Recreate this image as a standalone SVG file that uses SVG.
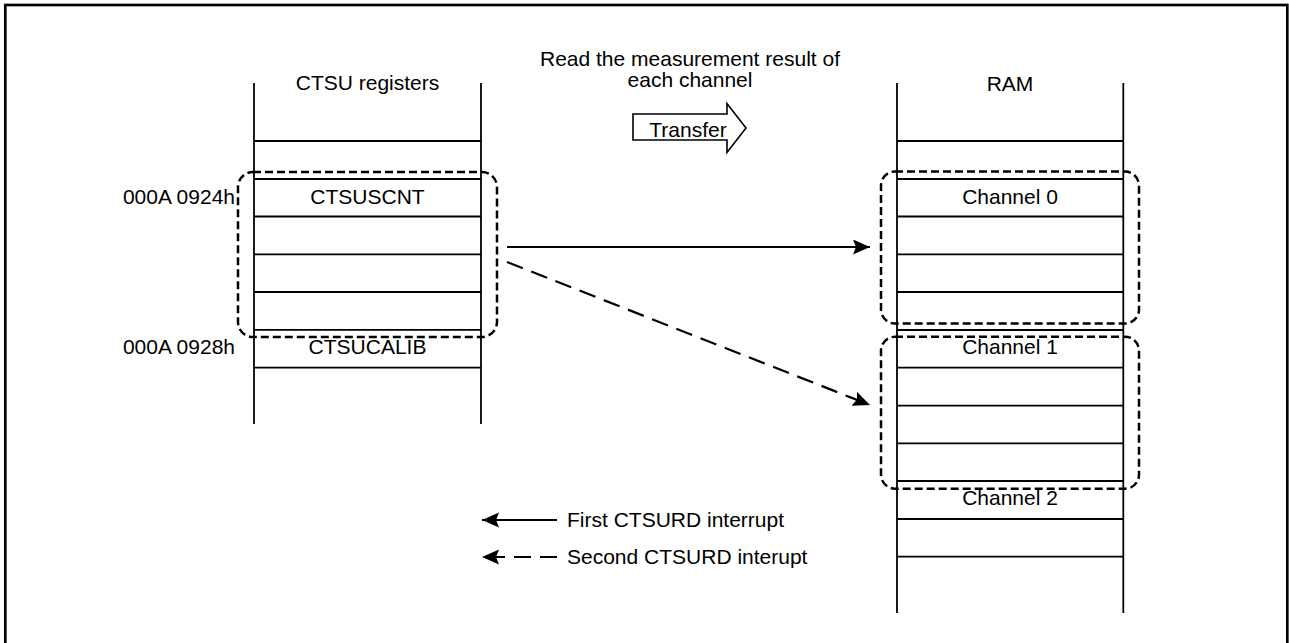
<svg xmlns="http://www.w3.org/2000/svg" width="1289" height="643" viewBox="0 0 1289 643">
<style>
text{font-family:"Liberation Sans",Arial,sans-serif;font-size:21px;fill:#000}
.c{text-anchor:middle}
.r{text-anchor:end}
.cell{stroke:#000;stroke-width:1.8;fill:none}
.grp{stroke:#000;stroke-width:2.5;fill:none;stroke-dasharray:8 4}
.conn{stroke:#000;stroke-width:2.2;fill:none}
.dash{stroke-dasharray:17 9}
</style>
<defs>
<marker id="ah" markerUnits="userSpaceOnUse" markerWidth="19" markerHeight="16" refX="17" refY="7.5" orient="auto">
<path d="M0,0 L17,7.5 L0,15 L3,7.5 z" fill="#000" stroke="none"/>
</marker>
</defs>
<rect x="5.3" y="5" width="1282" height="660" fill="#fff" stroke="#000" stroke-width="2.7"/>

<g id="title">
<text class="c" x="690" y="66">Read the measurement result of</text>
<text class="c" x="690" y="87">each channel</text>
</g>
<g id="transfer">
<path d="M633,114 H727 V103.5 L746,128 L727,152.5 V140 H633 Z" fill="#fff" stroke="#000" stroke-width="1.6"/>
<text class="c" x="688" y="137">Transfer</text>
</g>

<g id="ctsu-registers">
<text class="c" x="367.5" y="90">CTSU registers</text>
<line class="cell" x1="254" y1="83" x2="254" y2="424"/>
<line class="cell" x1="481" y1="83" x2="481" y2="424"/>
<line class="cell" x1="254" y1="141" x2="481" y2="141"/>
<line class="cell" x1="254" y1="179" x2="481" y2="179"/>
<line class="cell" x1="254" y1="216.5" x2="481" y2="216.5"/>
<line class="cell" x1="254" y1="254.3" x2="481" y2="254.3"/>
<line class="cell" x1="254" y1="292" x2="481" y2="292"/>
<line class="cell" x1="254" y1="329.8" x2="481" y2="329.8"/>
<line class="cell" x1="254" y1="367.7" x2="481" y2="367.7"/>
<text class="c" x="367.5" y="203.5">CTSUSCNT</text>
<text class="c" x="367.5" y="354">CTSUCALIB</text>
<text class="r" x="235" y="203.5">000A 0924h</text>
<text class="r" x="235" y="354">000A 0928h</text>
</g>

<g id="ram">
<text class="c" x="1010" y="91">RAM</text>
<line class="cell" x1="897" y1="83" x2="897" y2="613"/>
<line class="cell" x1="1123.3" y1="83" x2="1123.3" y2="613"/>
<line class="cell" x1="897" y1="141" x2="1123.3" y2="141"/>
<line class="cell" x1="897" y1="179" x2="1123.3" y2="179"/>
<line class="cell" x1="897" y1="216.5" x2="1123.3" y2="216.5"/>
<line class="cell" x1="897" y1="254.3" x2="1123.3" y2="254.3"/>
<line class="cell" x1="897" y1="292" x2="1123.3" y2="292"/>
<line class="cell" x1="897" y1="330" x2="1123.3" y2="330"/>
<line class="cell" x1="897" y1="367.7" x2="1123.3" y2="367.7"/>
<line class="cell" x1="897" y1="405.6" x2="1123.3" y2="405.6"/>
<line class="cell" x1="897" y1="443.3" x2="1123.3" y2="443.3"/>
<line class="cell" x1="897" y1="481" x2="1123.3" y2="481"/>
<line class="cell" x1="897" y1="519" x2="1123.3" y2="519"/>
<line class="cell" x1="897" y1="556.7" x2="1123.3" y2="556.7"/>
<text class="c" x="1010" y="204">Channel 0</text>
<text class="c" x="1010" y="354">Channel 1</text>
<text class="c" x="1010" y="505">Channel 2</text>
</g>

<g id="groups">
<rect id="group-left" class="grp" x="238" y="172" width="259" height="165" rx="15" ry="15"/>
<rect id="group-ch0" class="grp" x="881" y="171.5" width="258" height="152" rx="14" ry="14"/>
<rect id="group-ch1" class="grp" x="881" y="336.7" width="258" height="152" rx="14" ry="14"/>
</g>

<g id="connectors">
<line class="conn" x1="507" y1="247" x2="870" y2="247" marker-end="url(#ah)"/>
<line class="conn dash" x1="507" y1="262" x2="870" y2="405" marker-end="url(#ah)"/>
</g>

<g id="legend">
<line class="conn" x1="557" y1="520" x2="482" y2="520" marker-end="url(#ah)"/>
<line class="conn dash" x1="557" y1="557" x2="482" y2="557" marker-end="url(#ah)"/>
<text x="567" y="527">First CTSURD interrupt</text>
<text x="567" y="564">Second CTSURD interupt</text>
</g>
</svg>
